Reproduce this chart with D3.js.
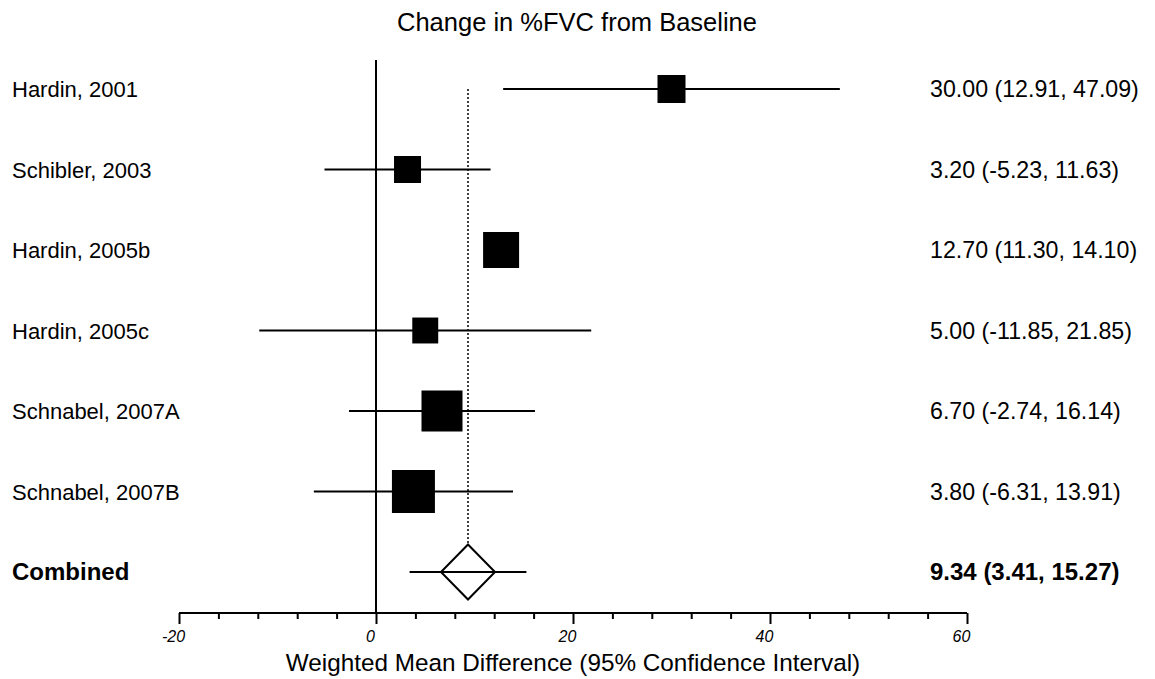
<!DOCTYPE html>
<html>
<head>
<meta charset="utf-8">
<script src="https://cdn.jsdelivr.net/npm/d3@7"></script>
<style>
  body { margin: 0; background: #fff; }
  text { font-family: "Liberation Sans", Arial, sans-serif; fill: #000; }
</style>
</head>
<body>
<svg id="chart" width="1155" height="679"></svg>
<script>
// study data
const studies = ['Hardin, 2001', 'Schibler, 2003', 'Hardin, 2005b', 'Hardin, 2005c', 'Schnabel, 2007A', 'Schnabel, 2007B'];
const means   = [30.00, 3.20, 12.70, 5.00, 6.70, 3.80];
const lower   = [12.91, -5.23, 11.30, -11.85, -2.74, -6.31];
const upper   = [47.09, 11.63, 14.10, 21.85, 16.14, 13.91];
const weights = [11.2, 10.4, 18.5, 9.6, 24.0, 26.4];
const combined = {label: 'Combined', mean: 9.34, lower: 3.41, upper: 15.27};
const xTicks = [-20, 0, 20, 40, 60];

const svg = d3.select('#chart');

const x = d3.scaleLinear().domain([-20, 60]).range([179, 967]);
const rows = studies.concat([combined.label]);
const y = d3.scalePoint().domain(rows).range([89, 572]);
const side = d3.scaleSqrt().domain([0, d3.max(weights)]).range([0, 43]);
const fmt = v => d3.format('.2f')(v).replace('\u2212', '-');

const data = studies.map((s, i) => ({s, m: means[i], lo: lower[i], hi: upper[i], w: weights[i]}));

// title
svg.append('text').attr('x', 577).attr('y', 31).attr('text-anchor', 'middle')
  .style('font-size', '25.5px').text('Change in %FVC from Baseline');

// zero line
svg.append('line').attr('x1', x(0)).attr('x2', x(0)).attr('y1', 60).attr('y2', 613)
  .attr('stroke', '#000').attr('stroke-width', 2);

// dotted line at pooled estimate
svg.append('line').attr('x1', x(combined.mean)).attr('x2', x(combined.mean))
  .attr('y1', y(studies[0])).attr('y2', y(combined.label) - 27)
  .attr('stroke', '#000').attr('stroke-width', 1.5).attr('stroke-dasharray', '2,2');

// CI lines
svg.selectAll('.ci').data(data).enter().append('line')
  .attr('x1', d => x(d.lo)).attr('x2', d => x(d.hi))
  .attr('y1', d => y(d.s)).attr('y2', d => y(d.s))
  .attr('stroke', '#000').attr('stroke-width', 2);

// boxes
svg.selectAll('.box').data(data).enter().append('rect')
  .attr('x', d => x(d.m) - side(d.w) / 2).attr('y', d => y(d.s) - side(d.w) / 2)
  .attr('width', d => side(d.w)).attr('height', d => side(d.w))
  .attr('fill', '#000');

// combined
const cy = y(combined.label);
svg.append('line').attr('x1', x(combined.lower)).attr('x2', x(combined.upper))
  .attr('y1', cy).attr('y2', cy).attr('stroke', '#000').attr('stroke-width', 2);
const cx = x(combined.mean);
svg.append('path')
  .attr('d', `M${cx},${cy - 27.5}L${cx + 27},${cy}L${cx},${cy + 27.5}L${cx - 27},${cy}Z`)
  .attr('fill', 'none').attr('stroke', '#000').attr('stroke-width', 2);

// labels
const isC = d => d === combined.label;
svg.selectAll('.lab').data(rows).enter().append('text')
  .attr('x', 12).attr('y', d => y(d) + 8)
  .style('font-size', d => isC(d) ? '24px' : '22px').style('font-weight', d => isC(d) ? 'bold' : 'normal')
  .text(d => d);

const rightText = data.map(d => `${fmt(d.m)} (${fmt(d.lo)}, ${fmt(d.hi)})`)
  .concat([`${fmt(combined.mean)} (${fmt(combined.lower)}, ${fmt(combined.upper)})`]);
svg.selectAll('.val').data(rows).enter().append('text')
  .attr('x', 930).attr('y', d => y(d) + 8)
  .style('font-size', d => isC(d) ? '24px' : '23.2px').style('font-weight', d => isC(d) ? 'bold' : 'normal')
  .text((d, i) => rightText[i]);

// x axis
const axis = d3.axisBottom(x).tickValues(d3.range(-20, 61, 4)).tickSize(6)
  .tickFormat(d => xTicks.includes(d) ? d : '');
const gx = svg.append('g').attr('transform', 'translate(0,613)').call(axis);
gx.select('.domain').attr('stroke-width', 2).attr('d', `M${x(-20)},0H${x(60)}`);
gx.selectAll('.tick line').attr('stroke-width', 2)
  .attr('y2', d => xTicks.includes(d) ? 11 : 6);
gx.selectAll('.tick text').style('font-size', '16px').style('font-style', 'italic')
  .style('font-family', '"Liberation Sans", Arial, sans-serif')
  .attr('y', 29).attr('dy', 0).attr('x', -6);

svg.append('text').attr('x', 573).attr('y', 671).attr('text-anchor', 'middle')
  .style('font-size', '24.3px').text('Weighted Mean Difference (95% Confidence Interval)');
</script>
</body>
</html>
